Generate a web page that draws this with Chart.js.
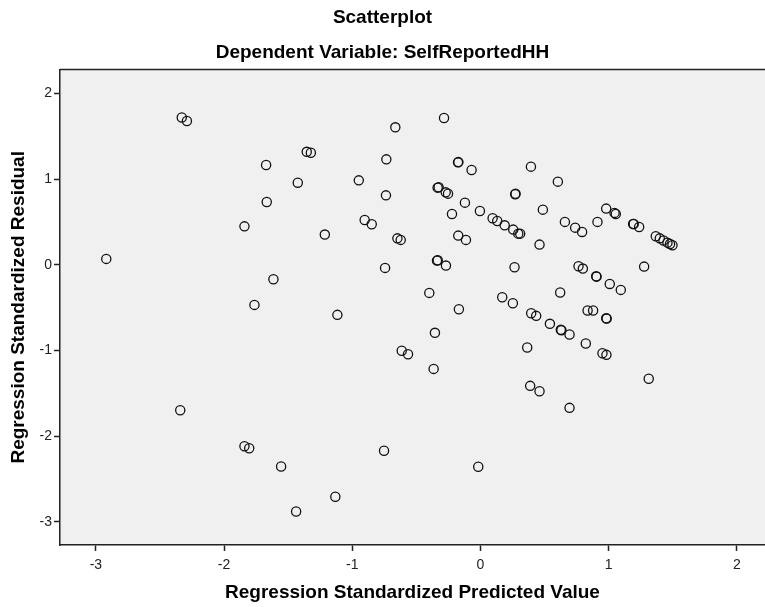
<!DOCTYPE html>
<html>
<head>
<meta charset="utf-8">
<script src="https://cdn.jsdelivr.net/npm/chart.js@4/dist/chart.umd.min.js"></script>
<style>
  html, body { margin: 0; padding: 0; background: #fff; overflow: hidden; }
  #scatter { display: block; }
</style>
</head>
<body>
<canvas id="scatter" width="765" height="607"></canvas>
<script>
// Regression standardized predicted value (x) and residual (y)
const predicted = [
  -2.919, -2.33, -2.29, -2.342, -1.841, -1.841, -1.804, -1.763, -1.672, -1.667,
  -1.615, -1.555, -1.438, -1.425, -1.355, -1.323, -1.214, -1.116, -1.132, -0.949,
  -0.903, -0.848, -0.752, -0.744, -0.737, -0.734, -0.664, -0.648, -0.622, -0.614,
  -0.565, -0.399, -0.365, -0.355, -0.339, -0.333, -0.334, -0.326, -0.284, -0.271,
  -0.253, -0.269, -0.222, -0.175, -0.172, -0.173, -0.168, -0.121, -0.113, -0.069,
  -0.017, -0.004, 0.095, 0.131, 0.17, 0.189, 0.253, 0.256, 0.266, 0.271,
  0.274, 0.295, 0.31, 0.365, 0.388, 0.394, 0.396, 0.435, 0.461, 0.461,
  0.487, 0.542, 0.604, 0.622, 0.627, 0.632, 0.659, 0.695, 0.695, 0.739,
  0.765, 0.793, 0.799, 0.822, 0.836, 0.879, 0.903, 0.906, 0.913, 0.952,
  0.981, 0.981, 0.985, 0.983, 1.009, 1.046, 1.056, 1.095, 1.191, 1.196,
  1.238, 1.277, 1.313, 1.368, 1.399, 1.428, 1.459, 1.479, 1.498
];
const residual = [
  0.07, 1.72, 1.68, -1.697, 0.45, -2.117, -2.14, -0.467, 1.167, 0.735,
  -0.168, -2.354, -2.879, 0.96, 1.32, 1.31, 0.354, -0.583, -2.707, 0.987,
  0.525, 0.474, -2.17, -0.035, 0.812, 1.232, 1.606, 0.31, 0.292, -1.003,
  -1.043, -0.327, -1.214, -0.793, 0.05, 0.055, 0.902, 0.906, 1.715, 0.847,
  0.832, -0.008, 0.595, 1.197, 1.2, 0.342, -0.518, 0.727, 0.292, 1.108,
  -2.357, 0.63, 0.544, 0.513, -0.378, 0.462, -0.448, 0.412, -0.028, 0.824,
  0.83, 0.365, 0.365, -0.965, -1.412, 1.147, -0.565, -0.595, 0.237, -1.475,
  0.645, -0.688, 0.972, -0.323, -0.758, -0.762, 0.502, -0.813, -1.669, 0.435,
  -0.016, 0.385, -0.043, -0.918, -0.533, -0.533, -0.133, -0.137, 0.502, -1.031,
  0.657, -0.623, -0.627, -1.05, -0.222, 0.607, 0.595, -0.292, 0.478, 0.478,
  0.443, -0.02, -1.33, 0.334, 0.31, 0.284, 0.26, 0.245, 0.229
];
const xTicks = [-3, -2, -1, 0, 1, 2];
const yTicks = [-3, -2, -1, 0, 1, 2];

const points = predicted.map((x, i) => ({ x: x, y: residual[i] }));
const fontFamily = '"Liberation Sans", Arial, sans-serif';

// grey plot background and the frame line along the top
const plotBackground = {
  id: "plotBackground",
  beforeDraw(chart) {
    const { ctx, chartArea } = chart;
    ctx.save();
    ctx.fillStyle = "#f0f0f0";
    ctx.fillRect(chartArea.left, chartArea.top, chartArea.right - chartArea.left, chartArea.bottom - chartArea.top);
    ctx.strokeStyle = "#222";
    ctx.lineWidth = 1.5;
    ctx.beginPath();
    ctx.moveTo(chartArea.left, chartArea.top);
    ctx.lineTo(chartArea.right, chartArea.top);
    ctx.stroke();
    ctx.restore();
  }
};

new Chart(document.getElementById("scatter"), {
  type: "scatter",
  data: {
    datasets: [{
      label: "Residuals",
      data: points,
      pointStyle: "circle",
      pointRadius: 4.6,
      pointBorderWidth: 1.3,
      borderColor: "#111",
      backgroundColor: "rgba(0,0,0,0)"
    }]
  },
  options: {
    responsive: false,
    animation: false,
    layout: { padding: 0, autoPadding: false },
    plugins: {
      legend: { display: false },
      tooltip: { enabled: false },
      title: {
        display: true,
        text: "Scatterplot",
        color: "#000",
        font: { family: fontFamily, size: 19, weight: "bold" },
        padding: { top: 6, bottom: 6 }
      },
      subtitle: {
        display: true,
        text: "Dependent Variable: SelfReportedHH",
        color: "#000",
        font: { family: fontFamily, size: 19, weight: "bold" },
        padding: { top: 7, bottom: 5 }
      }
    },
    scales: {
      x: {
        type: "linear",
        min: -3.28,
        max: 2.22,
        afterFit: s => { s.height = 62; },
        afterBuildTicks: s => { s.ticks = xTicks.map(v => ({ value: v })); },
        grid: { drawOnChartArea: false, drawTicks: true, tickLength: 6, tickWidth: 1.5, tickColor: "#222" },
        border: { display: true, color: "#222", width: 1.5 },
        ticks: { color: "#222", padding: 6, font: { family: fontFamily, size: 14 } },
        title: {
          display: true,
          text: "Regression Standardized Predicted Value",
          color: "#000",
          font: { family: fontFamily, size: 19, weight: "bold" },
          padding: { top: 0, bottom: 3 }
        }
      },
      y: {
        type: "linear",
        min: -3.27,
        max: 2.28,
        afterFit: s => { s.width = 60; },
        afterBuildTicks: s => { s.ticks = yTicks.map(v => ({ value: v })); },
        grid: { drawOnChartArea: false, drawTicks: true, tickLength: 6, tickWidth: 1.5, tickColor: "#222" },
        border: { display: true, color: "#222", width: 1.5 },
        ticks: { color: "#222", padding: 2, font: { family: fontFamily, size: 14 } },
        title: {
          display: true,
          text: "Regression Standardized Residual",
          color: "#000",
          font: { family: fontFamily, size: 19, weight: "bold" },
          padding: { top: 7, bottom: 0 }
        }
      }
    }
  },
  plugins: [plotBackground]
});
</script>
</body>
</html>
